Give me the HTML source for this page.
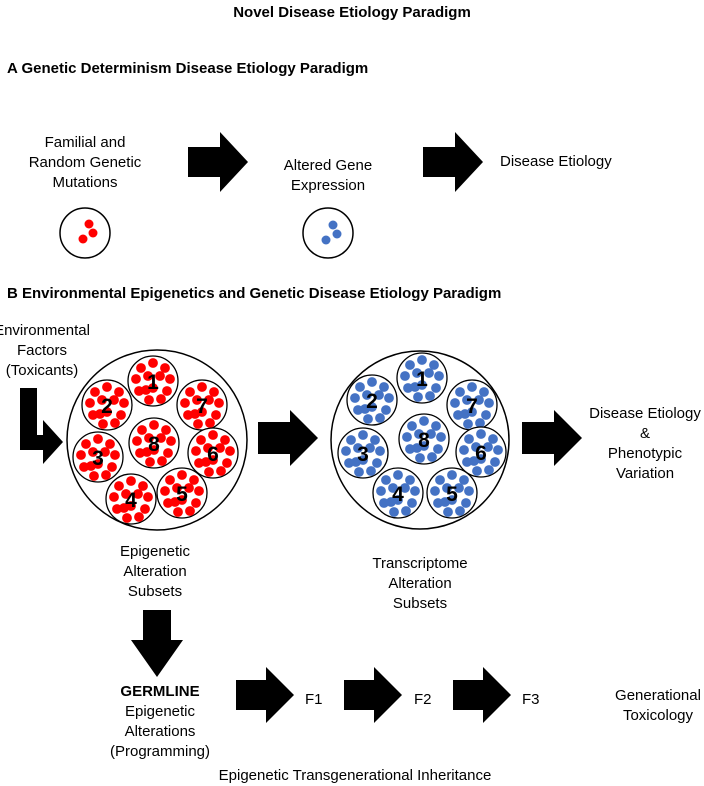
<!DOCTYPE html>
<html><head><meta charset="utf-8"><style>
html,body{margin:0;padding:0;background:#fff}
svg{display:block}
text{font-family:"Liberation Sans",Arial,sans-serif;font-size:15px;fill:#000}
.b{font-weight:bold}
.n{font-weight:bold;font-size:21px}
</style></head><body>
<svg id="s" width="704" height="786" viewBox="0 0 704 786" xmlns="http://www.w3.org/2000/svg">
<text x="352" y="17" text-anchor="middle" class="b">Novel Disease Etiology Paradigm</text>
<text x="7" y="73" class="b">A  Genetic Determinism Disease Etiology Paradigm</text>
<text x="7" y="298" class="b">B  Environmental Epigenetics and Genetic Disease Etiology Paradigm</text>

<g text-anchor="middle">
<text x="85" y="147">Familial and</text>
<text x="85" y="167">Random Genetic</text>
<text x="85" y="187">Mutations</text>
<text x="328" y="170">Altered Gene</text>
<text x="328" y="190">Expression</text>
<text x="42" y="335">Environmental</text>
<text x="42" y="355">Factors</text>
<text x="42" y="375">(Toxicants)</text>
<text x="645" y="418">Disease Etiology</text>
<text x="645" y="438">&amp;</text>
<text x="645" y="458">Phenotypic</text>
<text x="645" y="478">Variation</text>
<text x="155" y="556">Epigenetic</text>
<text x="155" y="576">Alteration</text>
<text x="155" y="596">Subsets</text>
<text x="420" y="568">Transcriptome</text>
<text x="420" y="588">Alteration</text>
<text x="420" y="608">Subsets</text>
<text x="160" y="696" class="b">GERMLINE</text>
<text x="160" y="716">Epigenetic</text>
<text x="160" y="736">Alterations</text>
<text x="160" y="756">(Programming)</text>
<text x="658" y="700">Generational</text>
<text x="658" y="720">Toxicology</text>
<text x="355" y="780">Epigenetic Transgenerational Inheritance</text>
</g>
<text x="500" y="166">Disease Etiology</text>
<text x="305" y="704">F1</text>
<text x="414" y="704">F2</text>
<text x="522" y="704">F3</text>

<g fill="#000">
<polygon points="188,147 220,147 220,132 248,162 220,192 220,177 188,177"/>
<polygon points="423,147 455,147 455,132 483,162 455,192 455,177 423,177"/>
<polygon points="258,422 290,422 290,410 318,438 290,466 290,454 258,454"/>
<polygon points="522,422 554,422 554,410 582,438 554,466 554,454 522,454"/>
<polygon points="20,388 37,388 37,435 43,435 43,420 63,442 43,464 43,450 20,450"/>
<polygon points="143,610 171,610 171,640 183,640 157,677 131,640 143,640"/>
<polygon points="236,680 266,680 266,667 294,695 266,723 266,710 236,710"/>
<polygon points="344,680 374,680 374,667 402,695 374,723 374,710 344,710"/>
<polygon points="453,680 483,680 483,667 511,695 483,723 483,710 453,710"/>
</g>

<g fill="none" stroke="#000" stroke-width="1.5">
<circle cx="85" cy="233" r="25"/>
<circle cx="328" cy="233" r="25"/>
<circle cx="157" cy="440" r="90"/>
<circle cx="420" cy="440" r="89"/>
</g>
<g fill="#f00"><circle cx="89" cy="224" r="4.5"/><circle cx="93" cy="233" r="4.5"/><circle cx="83" cy="239" r="4.5"/></g>
<g fill="#4472c4"><circle cx="333" cy="225" r="4.5"/><circle cx="337" cy="234" r="4.5"/><circle cx="326" cy="240" r="4.5"/></g>
<g id="dots"></g>
</svg>
<script>
var ns="http://www.w3.org/2000/svg",g=document.getElementById("dots");
var off=[[0,-18],[-12,-13],[12,-13],[-17,-2],[17,-2],[-14,10],[14,10],[-4,19],[8,18],[-5,-5],[7,-5],[0,7],[-7,9]];
function add(cx,cy,r,col,num){
 var c=document.createElementNS(ns,"circle");c.setAttribute("cx",cx);c.setAttribute("cy",cy);c.setAttribute("r",r);
 c.setAttribute("fill","#fff");c.setAttribute("stroke","#000");c.setAttribute("stroke-width","1.3");g.appendChild(c);
 off.forEach(function(o){var d=document.createElementNS(ns,"circle");d.setAttribute("cx",cx+o[0]);d.setAttribute("cy",cy+o[1]);d.setAttribute("r",4.9);d.setAttribute("fill",col);g.appendChild(d);});
 var t=document.createElementNS(ns,"text");t.setAttribute("x",cx);t.setAttribute("y",cy+8);t.setAttribute("text-anchor","middle");t.setAttribute("class","n");t.textContent=num;g.appendChild(t);
}
[[153,381,1],[107,405,2],[202,405,7],[154,443,8],[98,457,3],[213,453,6],[131,499,4],[182,493,5]].forEach(function(p){add(p[0],p[1],25,"#f00",p[2]);});
[[422,378,1],[372,400,2],[472,405,7],[424,439,8],[363,453,3],[481,452,6],[398,493,4],[452,493,5]].forEach(function(p){add(p[0],p[1],25,"#4472c4",p[2]);});
</script>
</body></html>
